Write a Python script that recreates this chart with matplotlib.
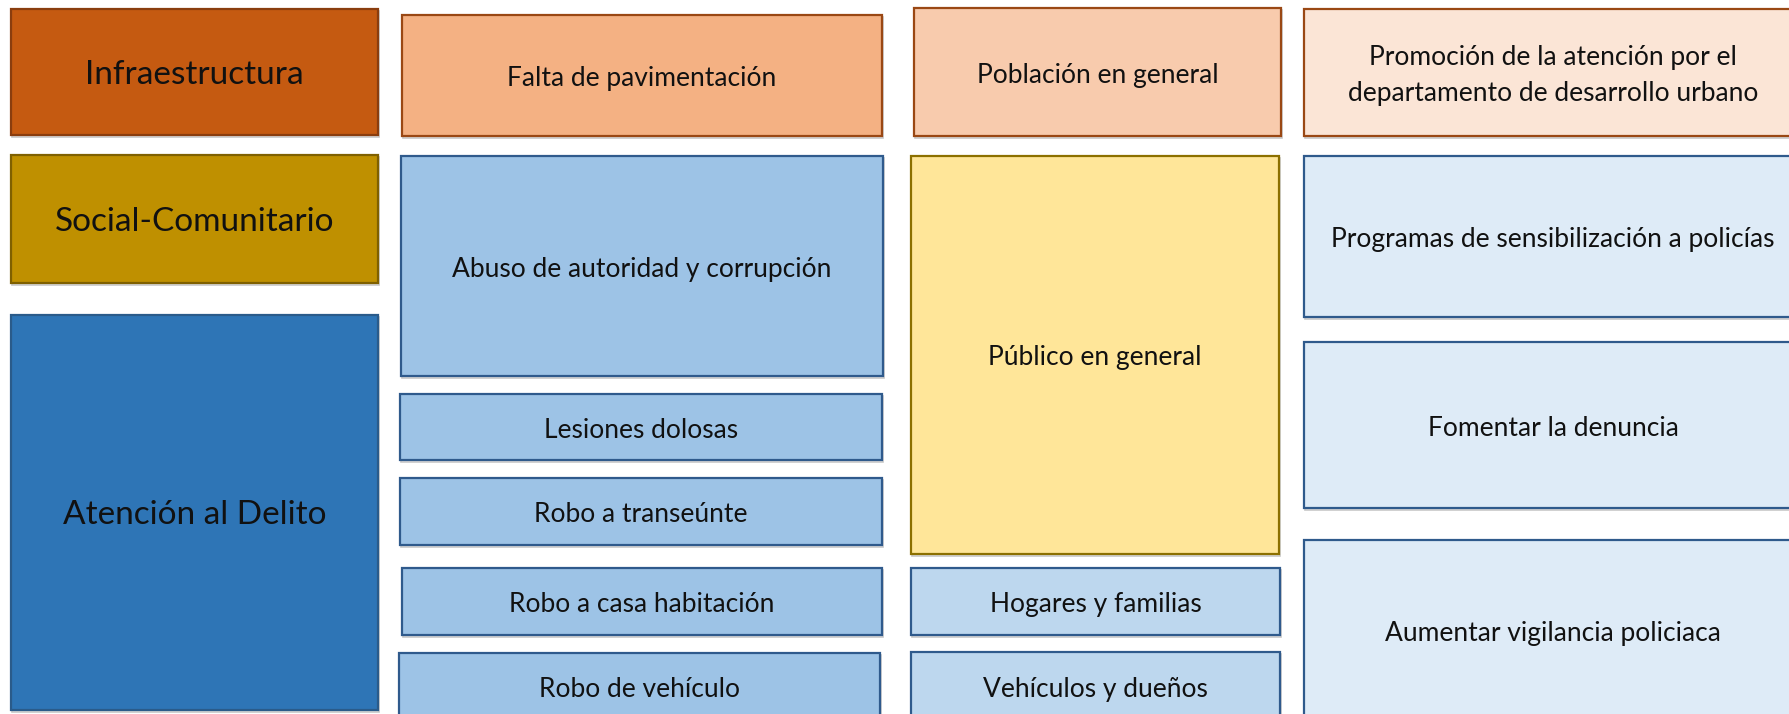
import matplotlib
matplotlib.use("Agg")
import matplotlib.pyplot as plt
from matplotlib.patches import Rectangle

plt.rcParams['font.family'] = ['Lato', 'DejaVu Sans']

# ---- content ----
areas = ["Infraestructura", "Social-Comunitario", "Atención al Delito"]
problems = ["Falta de pavimentación", "Abuso de autoridad y corrupción",
            "Lesiones dolosas", "Robo a transeúnte",
            "Robo a casa habitación", "Robo de vehículo"]
populations = ["Población en general", "Público en general",
               "Hogares y familias", "Vehículos y dueños"]
actions = ["Promoción de la atención por el\ndepartamento de desarrollo urbano",
           "Programas de sensibilización a policías",
           "Fomentar la denuncia", "Aumentar vigilancia policiaca"]

# ---- layout (pixel coords: x0, y0, x1, y1) ----
W, H = 1789, 714
area_boxes = [(11, 9, 378, 135), (11, 155, 378, 283), (11, 315, 378, 710)]
problem_boxes = [(402, 15, 882, 136), (401, 156, 883, 376), (400, 394, 882, 460),
                 (400, 478, 882, 545), (402, 568, 882, 635), (399, 653, 880, 720)]
pop_boxes = [(914, 8, 1281, 136), (911, 156, 1279, 554),
             (911, 568, 1280, 635), (911, 652, 1280, 720)]
action_boxes = [(1304, 9, 1802, 136), (1304, 156, 1802, 317),
                (1304, 342, 1802, 508), (1304, 540, 1802, 720)]

ORANGE_EDGE = "#9A4814"
BLUE_EDGE = "#2F5A8C"
area_style = [("#C55A11", "#8A3D0E"), ("#BF9000", "#7F6000"), ("#2E75B6", "#2A5B8A")]
problem_style = [("#F4B183", ORANGE_EDGE)] + [("#9DC3E6", BLUE_EDGE)] * 5
pop_style = [("#F8CBAD", ORANGE_EDGE), ("#FFE699", "#8C7000"),
             ("#BDD7EE", BLUE_EDGE), ("#BDD7EE", BLUE_EDGE)]
action_style = [("#FBE5D6", ORANGE_EDGE)] + [("#DEEBF7", BLUE_EDGE)] * 3

fig = plt.figure(figsize=(W / 100, H / 100), dpi=100)
ax = fig.add_axes([0, 0, 1, 1])
ax.set_xlim(0, W)
ax.set_ylim(H, 0)
ax.axis("off")


def draw(labels, boxes, styles, fs):
    for lab, (x0, y0, x1, y1), (fc, ec) in zip(labels, boxes, styles):
        ax.add_patch(Rectangle((x0 + 1, y0 + 2), x1 - x0, y1 - y0,
                               facecolor="none", edgecolor="#C8C8C8",
                               lw=1.2, zorder=1))
        ax.add_patch(Rectangle((x0, y0), x1 - x0, y1 - y0, facecolor=fc,
                               edgecolor=ec, lw=1.6, zorder=2))
        ax.text((x0 + x1) / 2, (y0 + y1) / 2 + 3, lab, ha="center", va="center",
                fontsize=fs, color="#111111", linespacing=1.5, zorder=3)


draw(areas, area_boxes, area_style, 24)
draw(problems, problem_boxes, problem_style, 19)
draw(populations, pop_boxes, pop_style, 19)
draw(actions, action_boxes, action_style, 19)

fig.savefig("out.png", dpi=100)
